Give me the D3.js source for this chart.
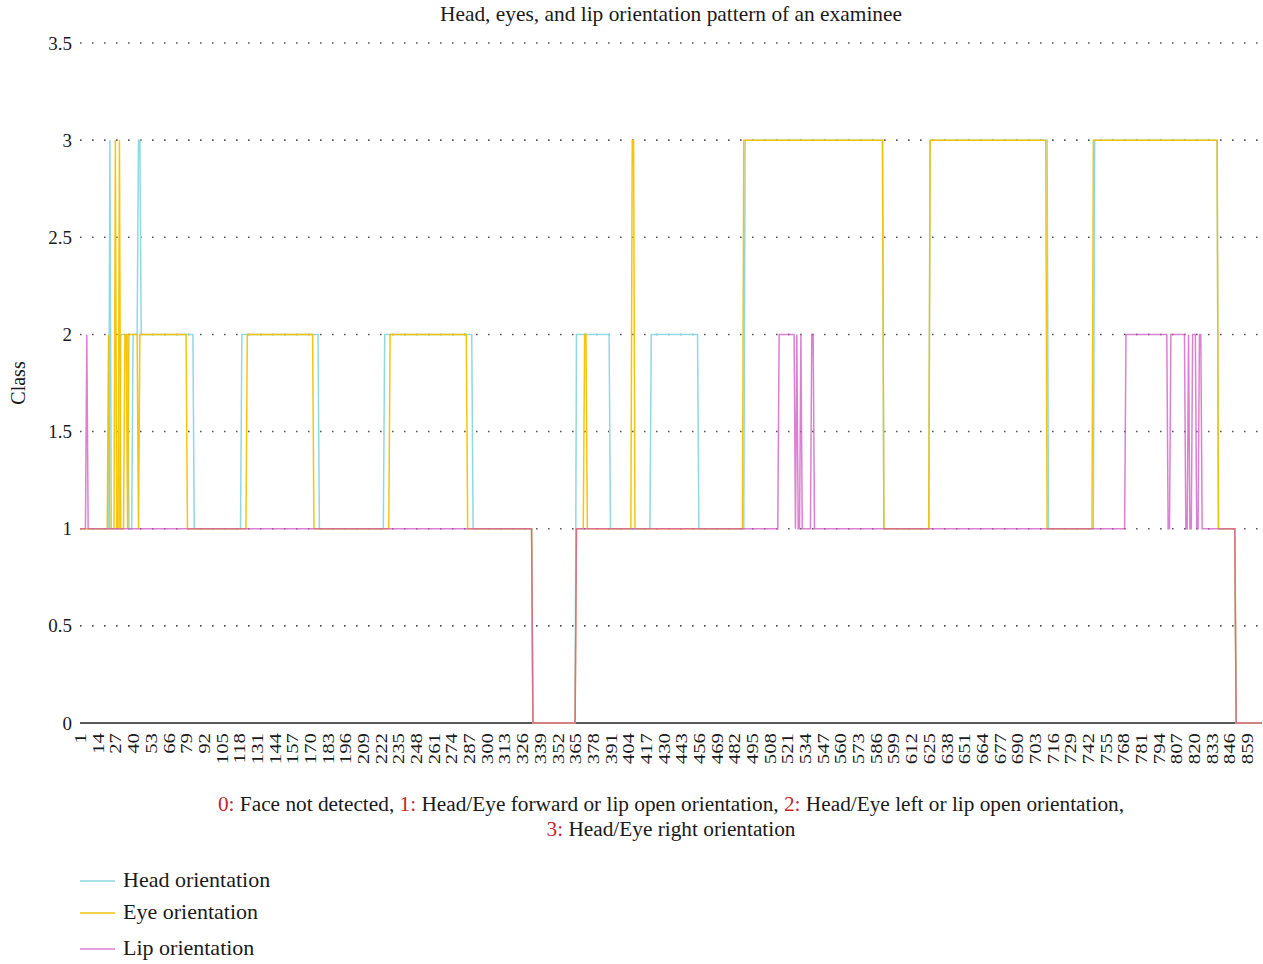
<!DOCTYPE html>
<html>
<head>
<meta charset="utf-8">
<script src="https://cdn.jsdelivr.net/npm/d3@7/dist/d3.min.js"></script>
<style>
  html, body { margin: 0; padding: 0; background: #fff; }
  svg { display: block; }
  text { font-family: "Liberation Serif", "DejaVu Serif", serif; fill: #1a1a1a; }
</style>
</head>
<body>
<svg id="chart" width="1263" height="964"></svg>
<script>
// Class per frame, stored as runs: [first frame of the run, class value]
const frameCount = 870;

const headRuns = [
  [1, 1], [23, 3], [24, 1], [31, 2], [37, 1], [40, 2], [44, 3], [46, 2], [85, 1],
  [120, 2], [177, 1], [225, 2], [290, 1], [334, 0], [366, 2], [391, 1], [421, 2],
  [456, 1], [490, 3], [592, 1], [626, 3], [713, 1], [747, 3], [838, 1], [851, 0]
];

const eyeRuns = [
  [1, 1], [22, 2], [23, 1], [27, 3], [28, 1], [30, 3], [31, 1], [34, 2], [36, 1],
  [37, 2], [44, 1], [45, 2], [80, 1], [124, 2], [173, 1], [229, 2], [286, 1],
  [334, 0], [366, 1], [372, 2], [374, 1], [407, 3], [409, 1], [489, 3], [592, 1],
  [626, 3], [712, 1], [746, 3], [838, 1], [851, 0]
];

const lipRuns = [
  [1, 1], [6, 2], [7, 1], [334, 0], [366, 1], [515, 2], [527, 1], [528, 2], [529, 1],
  [531, 2], [532, 1], [539, 2], [541, 1], [770, 2], [801, 1], [803, 2], [814, 1],
  [816, 2], [817, 1], [819, 2], [822, 1], [824, 2], [826, 1], [851, 0]
];

const xTickLabels = [1, 14, 27, 40, 53, 66, 79, 92, 105, 118, 131, 144, 157, 170, 183,
  196, 209, 222, 235, 248, 261, 274, 287, 300, 313, 326, 339, 352, 365, 378, 391, 404,
  417, 430, 443, 456, 469, 482, 495, 508, 521, 534, 547, 560, 573, 586, 599, 612, 625,
  638, 651, 664, 677, 690, 703, 716, 729, 742, 755, 768, 781, 794, 807, 820, 833, 846, 859];

const yTicks = [0, 0.5, 1, 1.5, 2, 2.5, 3, 3.5];

const seriesNames = ["Head orientation", "Eye orientation", "Lip orientation"];

const classNotes = [
  [["0:", "Face not detected, "], ["1:", "Head/Eye forward or lip open orientation, "], ["2:", "Head/Eye left or lip open orientation,"]],
  [["3:", "Head/Eye right orientation"]]
];

// ---- layout ----
const svg = d3.select("#chart");
const plotLeft = 80, plotRight = 1262, plotTop = 43, plotBottom = 723;

const x = d3.scaleLinear().domain([1, frameCount]).range([plotLeft, plotRight]);
const y = d3.scaleLinear().domain([0, 3.5]).range([plotBottom, plotTop]);

// Title
svg.append("text")
  .attr("x", 671).attr("y", 21)
  .attr("text-anchor", "middle")
  .style("font-size", "21.4px")
  .text("Head, eyes, and lip orientation pattern of an examinee");

// Dotted horizontal grid
svg.append("g")
  .selectAll("line")
  .data(yTicks.filter(d => d > 0))
  .join("line")
  .attr("x1", plotLeft).attr("x2", plotRight)
  .attr("y1", d => y(d)).attr("y2", d => y(d))
  .attr("stroke", "#555")
  .attr("stroke-width", 1.6)
  .attr("stroke-dasharray", "1.6,10.4");

// Y axis (labels only)
const yAxis = d3.axisLeft(y).tickValues(yTicks).tickSize(0).tickPadding(8)
  .tickFormat(d => String(d));
const gy = svg.append("g").attr("transform", `translate(${plotLeft},0)`).call(yAxis);
gy.select(".domain").remove();
gy.selectAll("text").style("font-size", "19px").style("font-family", '"Liberation Serif", serif').attr("fill", "#1a1a1a");

// Y axis title
svg.append("text")
  .attr("transform", `translate(25,383) rotate(-90)`)
  .attr("text-anchor", "middle")
  .style("font-size", "20px")
  .text("Class");

// X axis
const xAxis = d3.axisBottom(x).tickValues(xTickLabels).tickSize(0).tickFormat(d => String(d));
const gx = svg.append("g").attr("transform", `translate(0,${plotBottom})`).call(xAxis);
gx.select(".domain").attr("d", `M${plotLeft},0H${plotRight}`).attr("stroke", "#222").attr("stroke-width", 1.3);
gx.selectAll("text")
  .style("font-size", "16px").style("font-family", '"Liberation Serif", serif')
  .attr("fill", "#1a1a1a")
  .attr("text-anchor", "end")
  .attr("dy", null)
  .attr("transform", "translate(0,10) rotate(-90) scale(1.3,1)")
  .attr("x", 0).attr("y", 0)
  .attr("dominant-baseline", "central");

// Series lines built from the runs
function runPoints(runs) {
  const pts = [];
  runs.forEach((r, i) => {
    const start = r[0];
    const end = i + 1 < runs.length ? runs[i + 1][0] - 1 : frameCount;
    pts.push([start, r[1]]);
    if (end > start) pts.push([end, r[1]]);
  });
  return pts;
}

const line = d3.line().x(d => x(d[0])).y(d => y(d[1]));

const series = [
  { name: seriesNames[0], runs: headRuns, color: "#8fd9e2", opacity: 1 },
  { name: seriesNames[1], runs: eyeRuns, color: "#f7c100", opacity: 0.95 },
  { name: seriesNames[2], runs: lipRuns, color: "#cf4fc0", opacity: 0.72 }
];

svg.append("g")
  .selectAll("path")
  .data(series)
  .join("path")
  .attr("d", d => line(runPoints(d.runs)))
  .attr("fill", "none")
  .attr("stroke", d => d.color)
  .attr("stroke-opacity", d => d.opacity)
  .attr("stroke-width", 1.5)
  .attr("stroke-linejoin", "miter");

// Class description under the axis
const notes = svg.append("g");
classNotes.forEach((row, i) => {
  const t = notes.append("text")
    .attr("x", 671).attr("y", 811 + i * 25)
    .attr("text-anchor", "middle")
    .style("font-size", "21.3px");
  row.forEach(([key, desc]) => {
    t.append("tspan").attr("fill", "#c8252c").text(key);
    t.append("tspan").attr("fill", "#1a1a1a").text(" " + desc);
  });
});

// Legend
const legend = svg.append("g");
const legendY = [881, 913, 949];
series.forEach((s, i) => {
  legend.append("line")
    .attr("x1", 80).attr("x2", 115)
    .attr("y1", legendY[i]).attr("y2", legendY[i])
    .attr("stroke", s.color).attr("stroke-opacity", s.opacity)
    .attr("stroke-width", 1.4);
  legend.append("text")
    .attr("x", 123).attr("y", legendY[i] + 6)
    .style("font-size", "22px")
    .text(s.name);
});
</script>
</body>
</html>
